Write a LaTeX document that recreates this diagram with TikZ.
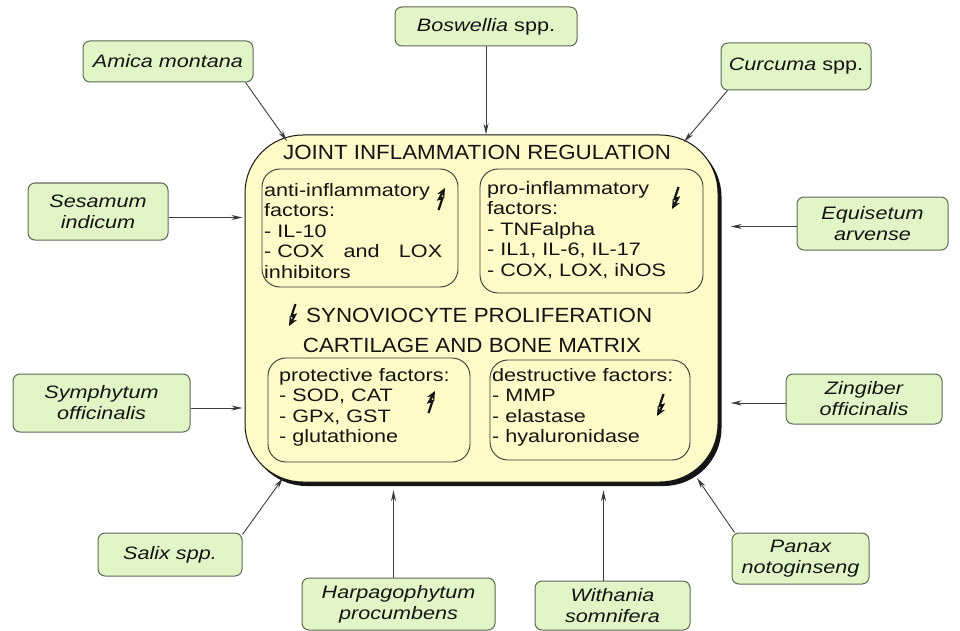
\documentclass[tikz,border=0pt]{standalone}
\usepackage{fontspec}
\setmainfont{Liberation Sans}
\newfontfamily\titlefont{Liberation Sans}[FakeStretch=1.09]
\newfontfamily\bodyfont{Liberation Sans}[FakeStretch=1.2]
\usetikzlibrary{arrows.meta}
\definecolor{gfill}{RGB}{226,245,198}
\definecolor{gdraw}{RGB}{95,105,85}
\definecolor{yfill}{RGB}{255,251,200}
\definecolor{ink}{RGB}{20,20,20}
\definecolor{lineclr}{RGB}{60,60,60}
\tikzset{
  plant/.style={draw=gdraw, fill=gfill, rounded corners=7pt, line width=1pt,
    align=center, inner sep=0pt, text=ink,
    font=\bodyfont\fontsize{18}{21}\selectfont\itshape},
  mainbox/.style={draw=ink, fill=yfill, rounded corners=58pt, line width=1pt, inner sep=0pt},
  shadowbox/.style={fill=ink, rounded corners=58pt, inner sep=0pt},
  inbox/.style={draw=ink!85, rounded corners=18pt, line width=0.9pt, inner sep=0pt},
  heading/.style={inner sep=0pt, text=ink, font=\titlefont\fontsize{20.5}{22}\selectfont},
  listtext/.style={anchor=north west, inner sep=0pt, align=left, text=ink,
    font=\bodyfont\fontsize{18}{20.5}\selectfont},
  con/.style={draw=lineclr, line width=0.9pt, -{Stealth[length=11pt,width=5pt]}},
  bolt/.style={draw=ink, line width=2.2pt, -{Stealth[length=9pt,width=8pt]}},
  dnbolt/.pic={\draw[bolt] (3.5,-11) -- (-0.5,1) -- (3,0) -- (-3,11);},
  upbolt/.pic={\draw[bolt] (-3.5,11) -- (0.5,-1) -- (-3,0) -- (3,-11);}
}
\begin{document}
\begin{tikzpicture}[x=1pt,y=-1pt]
\fill[white] (0,0) rectangle (960,631);
\useasboundingbox (0,0) rectangle (960,631);

% main box
\node[shadowbox, minimum width=473, minimum height=347] (mainshadow) at (485,312.5) {};
\node[mainbox, minimum width=473, minimum height=347] (main) at (481.5,308.5) {};

% headings
\node[heading] (t1) at (477,152) {JOINT INFLAMMATION REGULATION};
\node[heading, anchor=west] (t2) at (306,315) {SYNOVIOCYTE PROLIFERATION};
\node[heading] (t3) at (472,345) {CARTILAGE AND BONE MATRIX};
\pic at (292,315) {dnbolt};

% inner boxes
\node[inbox, minimum width=196, minimum height=118] (anti) at (360,228) {};
\node[inbox, minimum width=223, minimum height=124] (pro) at (591.5,231) {};
\node[inbox, minimum width=202, minimum height=104] (prot) at (369,410) {};
\node[inbox, minimum width=200, minimum height=100] (dest) at (590,410) {};

\node[listtext] (antitext) at (264,183) {anti-inflammatory\\factors:\\- IL-10\\\hbox to 178pt{- COX\hfill and\hfill LOX}\\inhibitors};
\node[listtext] (protext) at (487,181) {pro-inflammatory\\factors:\\- TNFalpha\\- IL1, IL-6, IL-17\\- COX, LOX, iNOS};
\node[listtext] (prottext) at (279,368) {protective factors:\\- SOD, CAT\\- GPx, GST\\- glutathione};
\node[listtext] (desttext) at (492,368) {destructive factors:\\- MMP\\- elastase\\- hyaluronidase};

\pic at (442,199) {upbolt};
\pic at (675,198) {dnbolt};
\pic at (432,402) {upbolt};
\pic at (660,405) {dnbolt};

% plant boxes
\node[plant, minimum width=170, minimum height=41] (amica) at (168,61.5) {Amica montana};
\node[plant, minimum width=182, minimum height=39] (bos) at (486,26.5) {Boswellia\upshape{} spp.};
\node[plant, minimum width=150, minimum height=47] (curc) at (796,66.5) {Curcuma\upshape{} spp.};
\node[plant, minimum width=140, minimum height=57] (ses) at (98,211.5) {Sesamum\\indicum};
\node[plant, minimum width=151, minimum height=53] (equ) at (872.5,223.5) {Equisetum\\arvense};
\node[plant, minimum width=177, minimum height=58] (sym) at (101.5,403) {Symphytum\\officinalis};
\node[plant, minimum width=156, minimum height=50] (zin) at (864,399) {Zingiber\\officinalis};
\node[plant, minimum width=144, minimum height=43] (salix) at (170,554.5) {Salix spp.};
\node[plant, minimum width=193, minimum height=52] (harp) at (398.5,604) {Harpagophytum\\procumbens};
\node[plant, minimum width=155, minimum height=49] (with) at (612.5,605.5) {Withania\\somnifera};
\node[plant, minimum width=137, minimum height=51] (panax) at (800.5,558.5) {Panax\\notoginseng};

% connector end points on the main box
\coordinate (eAmica) at (287,141);
\coordinate (eCurc) at (684,142);
\coordinate (eSalix) at (283,478);
\coordinate (ePanax) at (697,478);

% connectors
\draw[con] ([xshift=-8pt]amica.south east) -- (eAmica);
\draw[con] (bos.south) -- (bos.south |- main.north);
\draw[con] ([xshift=7pt]curc.south west) -- (eCurc);
\draw[con, shorten >=2pt] ([yshift=-6pt]ses.east) -- ([yshift=-6pt]ses.east -| main.west);
\draw[con, shorten >=2pt] ([yshift=-5pt]sym.east) -- ([yshift=-5pt]sym.east -| main.west);
\draw[con, shorten >=9pt] ([yshift=-3pt]equ.west) -- ([yshift=-3pt]equ.west -| mainshadow.east);
\draw[con, shorten >=9pt] ([yshift=-4pt]zin.west) -- ([yshift=-4pt]zin.west -| mainshadow.east);
\draw[con] ([yshift=-2pt]salix.north east) -- (eSalix);
\draw[con, shorten >=4pt] ([xshift=-5pt]harp.north) -- ([xshift=-5pt]harp.north |- mainshadow.south);
\draw[con, shorten >=4pt] ([xshift=-9pt]with.north) -- ([xshift=-9pt]with.north |- mainshadow.south);
\draw[con] ([xshift=3pt]panax.north west) -- (ePanax);
\end{tikzpicture}
\end{document}
